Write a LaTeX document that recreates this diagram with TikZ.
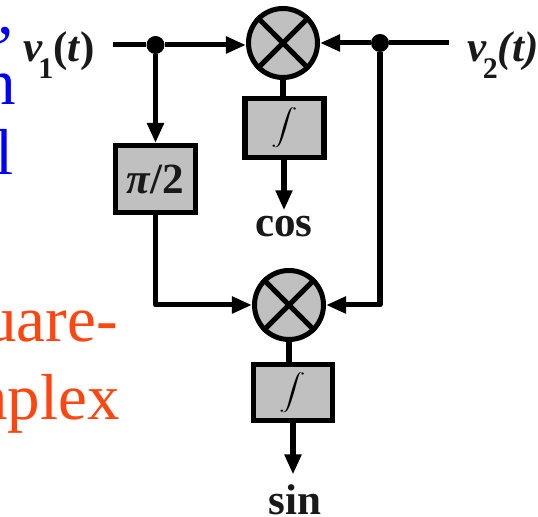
\documentclass[tikz,border=0pt]{standalone}
\usepackage{fontspec}
\setmainfont{Liberation Serif}
\usepackage{tikz}
\usetikzlibrary{arrows.meta,positioning,calc}
\definecolor{boxgray}{RGB}{192,192,192}
\definecolor{noteblue}{RGB}{0,0,255}
\definecolor{noteorange}{RGB}{255,69,16}
\newcommand{\intsign}{\scalebox{1.5}[1.03]{$\displaystyle\int$}}
\tikzset{
  wire/.style={line width=2.85pt, line join=round},
  arrowwire/.style={wire, -{Triangle[length=0.4cm,width=0.32cm]}},
  blockbox/.style={rectangle, draw=black, line width=2.85pt, fill=boxgray, inner sep=0pt},
  mixer/.style={circle, draw=black, line width=2.85pt, fill=boxgray, inner sep=0pt, minimum size=1.38cm},
  junction/.style={circle, fill=black, inner sep=0pt, minimum size=0.36cm},
  siglabel/.style={font=\fontsize{24.5}{28}\selectfont\bfseries, text=black!90, inner sep=0pt},
  notetext/.style={font=\fontsize{37}{42}\selectfont, inner sep=0pt, anchor=base east},
}
\begin{document}
\begin{tikzpicture}
  \clip (0,0) rectangle (10.76,10.34);

  % Cropped slide text
  \node[notetext,noteblue] (noteA) at (0.34,8.92) {’};
  \node[notetext,noteblue] (noteB) at (0.32,8.24) {n};
  \node[notetext,noteblue] (noteC) at (0.28,6.84) {l};
  \node[notetext,noteorange] (noteD) at (2.36,3.5) {uare-};
  \node[notetext,noteorange] (noteE) at (2.4,1.94) {mplex};

  % Mixers and blocks
  \node[mixer] (mixA) at (5.66,9.48) {};
  \node[mixer] (mixB) at (5.78,4.24) {};
  \foreach \m in {mixA,mixB}{
    \draw[wire] (\m.45)--(\m.225);
    \draw[wire] (\m.135)--(\m.315);
  }
  \node[blockbox,minimum width=1.58cm,minimum height=1.18cm] (intA) at (5.69,7.78) {\intsign};
  \node[blockbox,minimum width=1.6cm,minimum height=1.34cm,siglabel] (shift) at (3.11,6.76) {\raisebox{-0.1em}{\textit{π}/2}};
  \node[blockbox,minimum width=1.58cm,minimum height=1.12cm] (intB) at (5.86,2.49) {\intsign};

  % Signal labels
  \node[siglabel] (vone) at (1.18,9.24) {\textit{v}\kern-0.1em\raisebox{-0.4em}{\fontsize{17}{20}\selectfont 1}(\textit{t})};
  \node[siglabel] (vtwo) at (10.06,9.24) {\textit{v}\kern-0.1em\raisebox{-0.4em}{\fontsize{17}{20}\selectfont 2}\textit{(t)}};
  \node[siglabel] (coslbl) at (5.68,5.8) {cos};
  \node[siglabel] (sinlbl) at (5.9,0.34) {sin};

  % Junctions and free ends
  \node[junction] (dotA) at (3.11,9.44) {};
  \node[junction] (dotB) at (7.6,9.48) {};
  \coordinate (inA) at (2.26,9.44);
  \coordinate (inB) at (8.98,9.48);

  % Connectors
  \draw[wire] (inA)--(dotA);
  \draw[arrowwire] (dotA)--(dotA -| mixA.west);
  \draw[arrowwire] (dotA)--(shift.north);
  \draw[wire] (inB)--(dotB);
  \draw[arrowwire] (dotB)--(mixA.east);
  \draw[wire] (mixA.south)--(mixA.south |- intA.north);
  \draw[arrowwire] (intA.south -| coslbl.north)--($(coslbl.north)+(0,0.12)$);
  \draw[arrowwire] (shift.south) |- (mixB.west);
  \draw[arrowwire] (dotB) |- (mixB.east);
  \draw[wire] (mixB.south)--(mixB.south |- intB.north);
  \draw[arrowwire] (intB.south)--($(intB.south |- sinlbl.north)+(0,0.2)$);
\end{tikzpicture}
\end{document}
